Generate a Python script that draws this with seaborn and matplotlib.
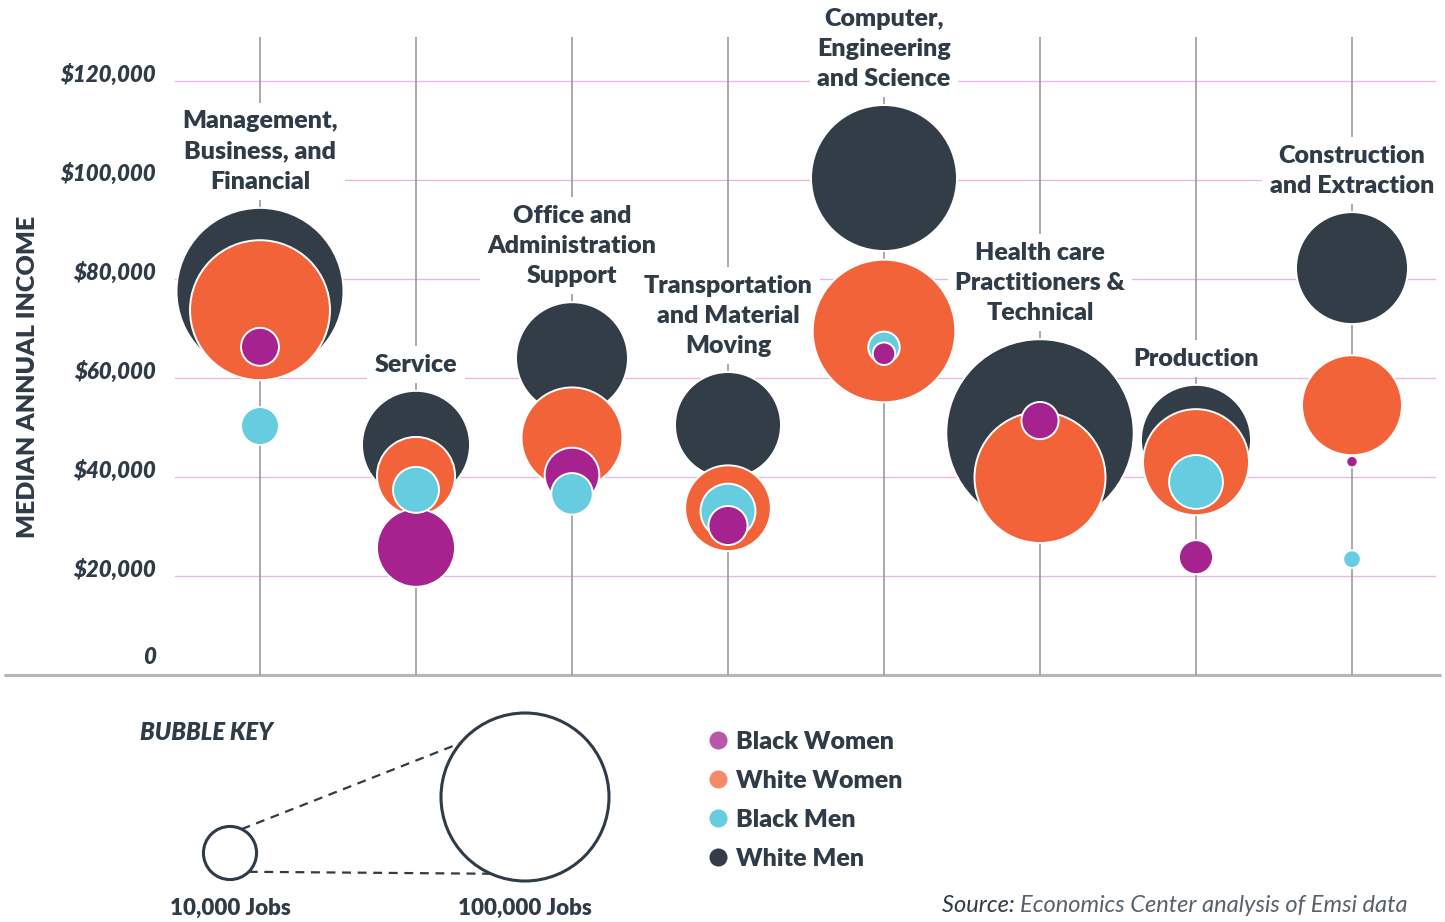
import numpy as np
import pandas as pd
import seaborn as sns
import matplotlib.pyplot as plt
from matplotlib.lines import Line2D
from matplotlib.transforms import blended_transform_factory, offset_copy


# ------------------------ DATA ------------------------

categories = [
    "Management,\nBusiness, and\nFinancial",
    "Service",
    "Office and\nAdministration\nSupport",
    "Transportation\nand Material\nMoving",
    "Computer,\nEngineering\nand Science",
    "Health care\nPractitioners &\nTechnical",
    "Production",
    "Construction\nand Extraction",
]
groups = ["White Men", "White Women", "Black Men", "Black Women"]

# median annual income, one value per category
income_white_men = [77500, 46500, 64000, 50500, 100400, 48900, 47500, 82200]
income_white_women = [73700, 40200, 47900, 33700, 69500, 39900, 43000, 54500]
income_black_men = [50300, 37400, 36600, 33100, 66200, None, 39000, 23400]
income_black_women = [66300, 25700, 40400, 30200, 64900, 51400, 23800, 43100]

# number of jobs, one value per category
jobs_white_men = [98800, 41300, 44400, 39800, 75500, 124400, 42900, 44400]
jobs_white_women = [69400, 21600, 36100, 26000, 72000, 60800, 39800, 35400]
jobs_black_men = [5100, 7500, 6100, 10700, 3500, None, 10300, 1100]
jobs_black_women = [5100, 21600, 10600, 5400, 1800, 4900, 4100, 460]

y_ticks = [0, 20000, 40000, 60000, 80000, 100000, 120000]
y_tick_labels = ["0", "$20,000", "$40,000", "$60,000", "$80,000", "$100,000", "$120,000"]

key_jobs = [10000, 100000]
key_labels = ["10,000 Jobs", "100,000 Jobs"]

legend_order = ["Black Women", "White Women", "Black Men", "White Men"]


# ------------------------ STYLE ------------------------

DARK = "#2f3b46"
colors = {
    "White Men": "#333d48",
    "White Women": "#f26339",
    "Black Men": "#65cddf",
    "Black Women": "#a6228e",
}
legend_colors = {
    "White Men": "#333d48",
    "White Women": "#f58a6b",
    "Black Men": "#65cddf",
    "Black Women": "#bb55aa",
}

W, H, DPI = 1445, 922, 100
BASE_PX = 675          # pixel row of the zero line
PX_PER_20K = 99        # pixels between grid lines
R100_PX = 84           # bubble radius for 100,000 jobs

sns.set_style("white")
plt.rcParams["font.family"] = ["Lato", "DejaVu Sans"]


def bubble_area(jobs):
    """scatter size (pt^2) so that bubble area follows the number of jobs"""
    r_px = R100_PX * np.sqrt(np.asarray(jobs, dtype=float) / 100000)
    return (2 * r_px * 72 / DPI) ** 2


# ------------------------ DATAFRAME ------------------------

frames = []
for g, inc, jb in zip(
    groups,
    [income_white_men, income_white_women, income_black_men, income_black_women],
    [jobs_white_men, jobs_white_women, jobs_black_men, jobs_black_women],
):
    frames.append(pd.DataFrame({
        "pos": range(len(categories)),
        "group": g,
        "income": inc,
        "jobs": jb,
    }))
df = pd.concat(frames, ignore_index=True).dropna()
df = df.sort_values("jobs", ascending=False)


# ------------------------ MAIN CHART ------------------------

fig = plt.figure(figsize=(W / DPI, H / DPI), dpi=DPI)
ax = fig.add_axes([0, (H - BASE_PX) / H, 1, BASE_PX / H])

y_top = BASE_PX / PX_PER_20K * 20000
ax.set_ylim(0, y_top)
ax.set_xlim(-260 / 156, (W - 260) / 156)

sns.scatterplot(
    data=df, x="pos", y="income",
    hue="group", palette=colors,
    size="jobs", sizes=(0, float(bubble_area(150000))), size_norm=(0, 150000),
    edgecolor="white", linewidth=1.4,
    legend=False, ax=ax, zorder=3,
)

# grid
for t in y_ticks[1:]:
    ax.axhline(t, xmin=175 / W, xmax=1435 / W, color="#e9b8e1", lw=1, zorder=0)
ax.axhline(0, xmin=5 / W, xmax=1440 / W, color="#b3b6ba", lw=2.2, zorder=1, clip_on=False)
ax.vlines(range(len(categories)), 0, (BASE_PX - 37) / PX_PER_20K * 20000,
          color="#9b9b9b", lw=1.2, zorder=1)

# y tick labels
trans = blended_transform_factory(ax.transAxes, ax.transData)
for t, lab in zip(y_ticks, y_tick_labels):
    up = 17 if t == 0 else 6
    ax.text(156 / W, t, lab, transform=offset_copy(trans, fig=fig, y=up, units="dots"),
            ha="right", va="center", fontsize=16, fontweight="heavy",
            style="italic", color=DARK)

fig.text(28 / W, 1 - 377 / H, "MEDIAN ANNUAL INCOME", rotation=90,
         ha="center", va="center", fontsize=18, fontweight="heavy", color=DARK)

# category labels above the highest bubble (white box hides the grid, not the bubbles)
pt_per_dollar = BASE_PX * 72 / DPI / y_top
for i, cat in enumerate(categories):
    sub = df[df["pos"] == i]
    rad = np.sqrt(bubble_area(sub["jobs"].values)) / 2
    top = sub["income"].values * pt_per_dollar + rad
    k = int(np.argmax(top))
    ax.annotate(cat, xy=(i, sub["income"].values[k]),
                xytext=(0, rad[k] + 11), textcoords="offset points",
                ha="center", va="bottom", fontsize=18, fontweight="heavy",
                color=DARK, linespacing=1.45, zorder=2,
                bbox=dict(boxstyle="square,pad=0.3", fc="white", ec="none"))

ax.axis("off")


# ------------------------ BUBBLE KEY ------------------------

kax = fig.add_axes([0, 0, 1, (H - BASE_PX) / H])
kax.set_xlim(0, W)
kax.set_ylim(H, BASE_PX)
kax.axis("off")

key_x = [230, 525]
key_y = [853, 797]
kax.scatter(key_x, key_y, s=bubble_area(key_jobs), facecolor="white",
            edgecolor=DARK, linewidth=2.2, zorder=3)

key_r = R100_PX * np.sqrt(np.array(key_jobs) / 100000)
for a_small, a_big in [(64, 140), (-45, -114)]:
    p0 = (key_x[0] + key_r[0] * np.cos(np.radians(a_small)),
          key_y[0] - key_r[0] * np.sin(np.radians(a_small)))
    p1 = (key_x[1] + key_r[1] * np.cos(np.radians(a_big)),
          key_y[1] - key_r[1] * np.sin(np.radians(a_big)))
    kax.plot([p0[0], p1[0]], [p0[1], p1[1]], color=DARK, lw=1.6,
             dashes=(4, 3), zorder=2)

for x, lab in zip(key_x, key_labels):
    kax.text(x, 908, lab, ha="center", va="center", fontsize=16,
             fontweight="heavy", color=DARK)

kax.text(140, 732, "BUBBLE KEY", ha="left", va="center", fontsize=17,
         fontweight="heavy", style="italic", color=DARK)

# colour legend
handles = [Line2D([], [], marker="o", ls="none", markersize=13,
                  markerfacecolor=legend_colors[g], markeredgecolor="none")
           for g in legend_order]
fig.legend(handles, legend_order, loc="center left",
           bbox_to_anchor=(682 / W, 1 - 800 / H), frameon=False,
           handletextpad=0.15, labelspacing=0.68, handlelength=1.1,
           prop=dict(size=18, weight="heavy"), labelcolor=DARK)

# source
src = kax.text(1408, 905, "Economics Center analysis of Emsi data", ha="right",
               va="center", fontsize=17, style="italic",
               color="#56616c")
kax.annotate("Source: ", xy=(0, 0), xycoords=src, ha="right", va="bottom",
             fontsize=17, style="italic", color=DARK)

fig.savefig("out.png", dpi=DPI)
